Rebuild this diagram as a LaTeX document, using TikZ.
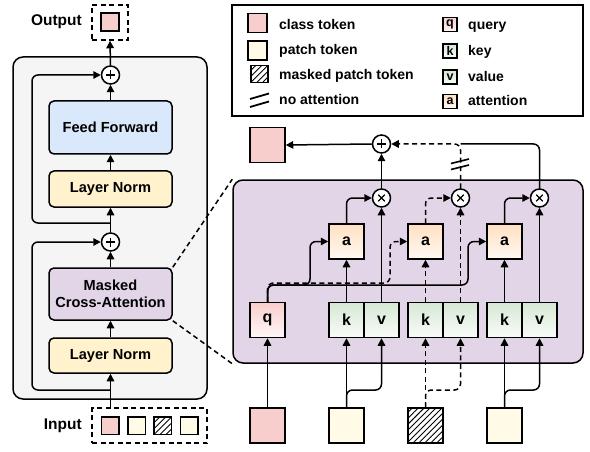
\documentclass[tikz,border=0pt]{standalone}
\usepackage{fontspec}
\setmainfont{Liberation Sans}
\usetikzlibrary{arrows.meta,patterns.meta}
\definecolor{panelgray}{HTML}{F5F5F5}
\definecolor{ffblue}{HTML}{DAE8FC}
\definecolor{lnyellow}{HTML}{FFF2CC}
\definecolor{mcapurple}{HTML}{E1D5E7}
\definecolor{clspink}{HTML}{F8CECC}
\definecolor{patchcream}{HTML}{FFFBE6}
\definecolor{kvgreen}{HTML}{D5E8D4}
\definecolor{apeach}{HTML}{FFE0C2}
\tikzset{
  lw/.style={line width=1.5pt},
  blockbox/.style={draw, lw, rounded corners=5pt, minimum width=123pt, inner sep=0pt, align=center, font=\fontsize{14.6}{17.5}\selectfont\bfseries},
  tok/.style={draw, lw, minimum size=35pt, inner sep=0pt, font=\fontsize{16}{19}\selectfont\bfseries},
  qbox/.style={tok, top color=clspink, bottom color=clspink!15!white},
  kvbox/.style={tok, top color=kvgreen, bottom color=kvgreen!15!white},
  abox/.style={tok, top color=apeach, bottom color=apeach!20!white},
  hatch/.style={pattern={Lines[angle=45,distance=4.2pt,line width=0.9pt]}},
  opc/.style={circle, draw, lw, fill=white, minimum size=18pt, inner sep=0pt},
  plusop/.style={opc, path picture={\draw[line width=1.1pt] ([xshift=-4.5pt]path picture bounding box.center) -- ([xshift=4.5pt]path picture bounding box.center) ([yshift=-4.5pt]path picture bounding box.center) -- ([yshift=4.5pt]path picture bounding box.center);}},
  timesop/.style={opc, path picture={\draw[line width=1.1pt] ([shift={(-3.3pt,-3.3pt)}]path picture bounding box.center) -- ([shift={(3.3pt,3.3pt)}]path picture bounding box.center) ([shift={(-3.3pt,3.3pt)}]path picture bounding box.center) -- ([shift={(3.3pt,-3.3pt)}]path picture bounding box.center);}},
  conn/.style={lw, rounded corners=6pt, -{Triangle[length=7.5pt,width=7.5pt]}},
  wire/.style={lw, rounded corners=6pt},
  dashline/.style={dash pattern=on 5pt off 3.5pt},
  dashbox/.style={draw, lw, dashline, inner sep=0pt},
  lbl/.style={inner sep=0pt, font=\fontsize{15.5}{18}\selectfont\bfseries},
  legtxt/.style={anchor=west, inner sep=0pt, text height=10pt, text depth=0pt, font=\fontsize{14}{17}\selectfont\bfseries},
  legsq/.style={draw, lw, inner sep=0pt},
  legsmall/.style={draw, lw, minimum size=14pt, inner sep=0pt, font=\fontsize{12.5}{14}\selectfont\bfseries},
}
\begin{document}
\begin{tikzpicture}[x=1pt,y=-1pt]
\useasboundingbox (0,0) rectangle (590,452);
% ---------- left panel ----------
\node[draw, lw, fill=panelgray, rounded corners=10pt, minimum width=194pt, minimum height=342pt, inner sep=0pt] (lp) at (110,228) {};
\node[blockbox, fill=ffblue, minimum height=53pt] (ff) at (110.5,127.5) {Feed Forward};
\node[blockbox, fill=lnyellow, minimum height=36pt] (ln2) at (110.5,189) {Layer Norm};
\node[blockbox, fill=mcapurple, minimum height=52pt] (mca) at (110.5,294) {Masked\\Cross-Attention};
\node[blockbox, fill=lnyellow, minimum height=35pt] (ln1) at (110.5,355.5) {Layer Norm};
\node[plusop] (p1) at (110.5,75) {};
\node[plusop] (p2) at (110.5,242) {};
% output / input
\node[dashbox, minimum width=36pt, minimum height=35pt] (outbox) at (110,22.5) {};
\node[legsq, fill=clspink, minimum size=18pt] (outtok) at (110,22) {};
\node[lbl, anchor=east] (outlbl) at (82,22) {Output};
\node[dashbox, minimum width=115pt, minimum height=35pt] (inbox) at (149.5,425.5) {};
\node[legsq, fill=clspink, minimum size=17.5pt] (in1) at (110,425.5) {};
\node[legsq, fill=patchcream, minimum size=17.5pt] (in2) at (136.5,425.5) {};
\node[legsq, hatch, minimum size=17.5pt] (in3) at (162.5,425.5) {};
\node[legsq, fill=patchcream, minimum size=17.5pt] (in4) at (189,425.5) {};
\node[lbl, anchor=east] (inlbl) at (82,426) {Input};
% left connectors
\draw[conn] (ln1.south |- inbox.north) -- (ln1.south);
\draw[conn] (ln1.north) -- (mca.south);
\draw[conn] (mca.north) -- (p2.south);
\draw[conn] (p2.north) -- (ln2.south);
\draw[conn] (ln2.north) -- (ff.south);
\draw[conn] (ff.north) -- (p1.south);
\draw[conn] (p1.north) -- (outbox.south);
\coordinate (s1) at (110.5,390);
\coordinate (l1) at (32,300);
\draw[conn] (s1) -| (l1) |- (p2.west);
\coordinate (s2) at (110.5,223);
\coordinate (l2) at (32,150);
\draw[conn] (s2) -| (l2) |- (p1.west);
% ---------- right panel ----------
\node[draw, lw, fill=mcapurple, rounded corners=10pt, minimum width=350pt, minimum height=183pt, inner sep=0pt] (rp) at (408,271.5) {};
\draw[lw, dashline] (mca.north east) -- (rp.north west);
\draw[lw, dashline] (mca.south east) -- (rp.south west);
\node[qbox] (q) at (267.5,320) {q};
\node[kvbox] (k1) at (346.5,320) {k};
\node[kvbox] (v1) at (381.5,320) {v};
\node[kvbox] (k2) at (425.5,320) {k};
\node[kvbox] (v2) at (460.5,320) {v};
\node[kvbox] (k3) at (504.5,320) {k};
\node[kvbox] (v3) at (539.5,320) {v};
\node[abox] (a1) at (346.5,241.5) {a};
\node[abox] (a2) at (425.5,241.5) {a};
\node[abox] (a3) at (504.5,241.5) {a};
\node[timesop] (m1) at (381.5,198) {};
\node[timesop] (m2) at (460.5,198) {};
\node[timesop] (m3) at (539.5,198) {};
\node[plusop] (pr) at (381.5,144) {};
\node[tok, fill=clspink] (outR) at (267.5,145) {};
% bottom tokens
\node[tok, fill=clspink] (c0) at (267.5,425.5) {};
\node[tok, fill=patchcream] (c1) at (346.5,425.5) {};
\node[tok, fill=white] (c2) at (425.5,425.5) {};
\node[tok, hatch] at (425.5,425.5) {};
\node[tok, fill=patchcream] (c3) at (504.5,425.5) {};
% token connectors
\draw[conn] (c0.north) -- (q.south);
\draw[conn] (c1.north) -- (k1.south);
\coordinate (b1) at (381.5,390);
\draw[conn] (c1.north) |- (b1) -- (v1.south);
\draw[conn, dashline] (c2.north) -- (k2.south);
\coordinate (b2) at (460.5,390);
\draw[conn, dashline] (c2.north) |- (b2) -- (v2.south);
\draw[conn] (c3.north) -- (k3.south);
\coordinate (b3) at (539.5,390);
\draw[conn] (c3.north) |- (b3) -- (v3.south);
% k -> a, v -> x
\draw[conn] (k1.north) -- (a1.south);
\draw[conn, dashline] (k2.north) -- (a2.south);
\draw[conn] (k3.north) -- (a3.south);
\draw[conn] (v1.north) -- (m1.south);
\draw[conn, dashline] (v2.north) -- (m2.south);
\draw[conn] (v3.north) -- (m3.south);
% q branches
\coordinate (qj1) at (310,285);
\coordinate (qj2) at (390,283);
\coordinate (qj3) at (468,285);
\draw[conn] (q.north) |- (qj1) |- (a1.west);
\draw[conn, dashline] (q.north) |- (qj2) |- (a2.west);
\draw[conn] (q.north) |- (qj3) |- (a3.west);
% a -> x
\draw[conn] (a1.north) |- (m1.west);
\draw[conn, dashline] (a2.north) |- (m2.west);
\draw[conn] (a3.north) |- (m3.west);
% top
\draw[conn] (m1.north) -- (pr.south);
\coordinate (tj) at (460.5,144);
\draw[wire] (m3.north) |- (tj);
\draw[conn, dashline] (m2.north) |- (pr.east);
\draw[conn] (pr.west) -- (outR.east);
\draw[line width=1.6pt] (451,169.5) -- (469,165) (451,163.5) -- (469,159);
% ---------- legend ----------
\node[draw, lw, fill=white, minimum width=351pt, minimum height=111pt, inner sep=0pt] (leg) at (407.5,60.5) {};
\node[legsq, fill=clspink, minimum size=19pt] (lg1) at (257.5,23) {};
\node[legtxt] (lt1) at (279,24.5) {class token};
\node[legsq, fill=patchcream, minimum size=19pt] (lg2) at (257.5,50.5) {};
\node[legtxt] (lt2) at (279,50) {patch token};
\node[legsq, hatch, minimum size=17pt] (lg3) at (259.5,74) {};
\node[legtxt] (lt3) at (279,75) {masked patch token};
\draw[line width=1.8pt] (250,99) -- (269,93.5) (250,107) -- (269,101.5);
\node[legtxt] (lt4) at (279,100) {no attention};
\node[legsmall, top color=clspink, bottom color=clspink!15!white] (lq) at (450,24.5) {q};
\node[legtxt] (lt5) at (468,24.5) {query};
\node[legsmall, top color=kvgreen, bottom color=kvgreen!15!white] (lk) at (450,51) {k};
\node[legtxt] (lt6) at (468,50.5) {key};
\node[legsmall, top color=kvgreen, bottom color=kvgreen!15!white] (lv) at (450,77) {v};
\node[legtxt] (lt7) at (468,76.5) {value};
\node[legsmall, top color=apeach, bottom color=apeach!20!white] (la) at (450,101.5) {a};
\node[legtxt] (lt8) at (468,101) {attention};
\end{tikzpicture}
\end{document}
